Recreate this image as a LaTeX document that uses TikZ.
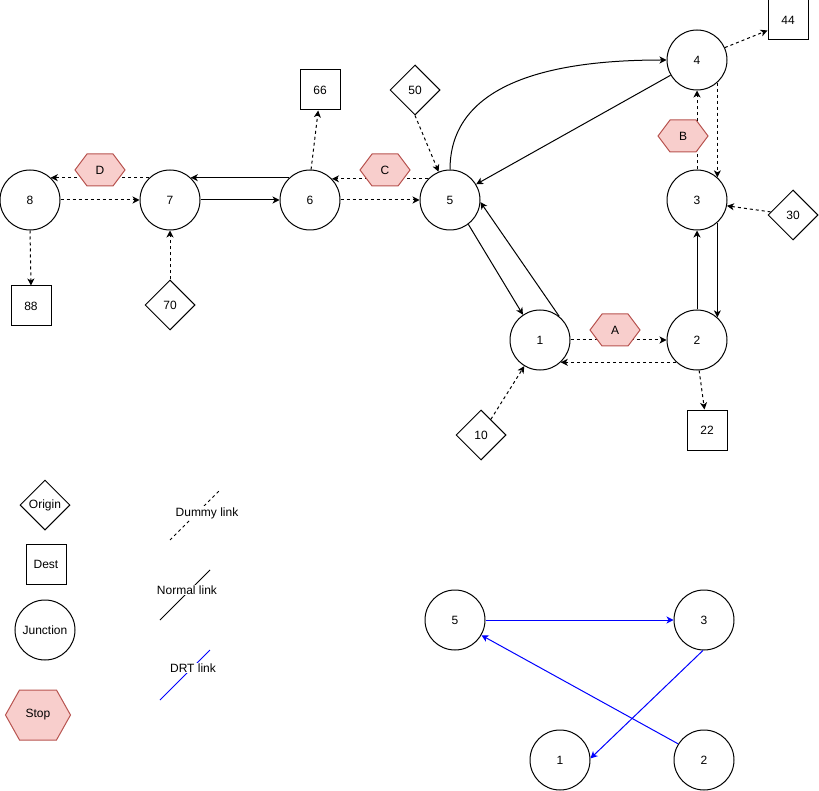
\documentclass[tikz,border=0pt]{standalone}
\usepackage{fontspec}
\setmainfont{Liberation Sans}
\usetikzlibrary{arrows.meta,shapes.geometric,calc}
\definecolor{stopfill}{HTML}{F8CECC}
\definecolor{stopdraw}{HTML}{B85450}
\definecolor{drtblue}{HTML}{0000FF}
\tikzset{
 lbl/.style={font=\fontsize{12}{14}\selectfont, text=black},
 junction/.style={lbl, circle, draw, line width=1pt, fill=white, minimum size=60pt, inner sep=0pt},
 dest/.style={lbl, rectangle, draw, line width=1pt, fill=white, minimum size=40pt, inner sep=0pt},
 origin/.style={lbl, diamond, draw, line width=1pt, fill=white, minimum width=50pt, minimum height=50pt, inner sep=0pt, aspect=1},
 stopbox/.style={fill=stopfill, draw=stopdraw, line width=1pt},
 stoptext/.style={lbl, inner sep=0pt},
 tip/.style={-{Stealth[length=7pt,width=7pt,inset=2pt]}},
 normal/.style={line width=1pt, tip},
 dummy/.style={line width=1pt, dash pattern=on 3pt off 3pt, tip},
 drt/.style={line width=1pt, draw=drtblue, tip},
 legendline/.style={line width=1pt},
 legendtext/.style={lbl, fill=white, inner sep=1pt},
}
% name, x, y, width, height, slant, label
\newcommand{\stophex}[7]{%
 \draw[stopbox] (#2,#3) ++(-#4/2,0) -- ++(#6,-#5/2) -- ++(#4-2*#6,0) -- ++(#6,#5/2) -- ++(-#6,#5/2) -- ++(-#4+2*#6,0) -- cycle;
 \node[stoptext] (#1) at (#2,#3) {#7};}
\begin{document}
\begin{tikzpicture}[x=1pt,y=-1pt]
\useasboundingbox (0,0) rectangle (819,791);
% junctions
\node[junction] (n8) at (30,200) {8};
\node[junction] (n7) at (170,200) {7};
\node[junction] (n6) at (310,200) {6};
\node[junction] (n5) at (450,200) {5};
\node[junction] (n4) at (697,60) {4};
\node[junction] (n3) at (697,200) {3};
\node[junction] (n2) at (697,340) {2};
\node[junction] (n1) at (540,340) {1};
% destinations
\node[dest] (d44) at (788,20) {44};
\node[dest] (d66) at (320,90) {66};
\node[dest] (d88) at (31,306) {88};
\node[dest] (d22) at (707,430) {22};
% origins
\node[origin] (o50) at (415,90) {50};
\node[origin] (o70) at (170,305) {70};
\node[origin] (o30) at (793,215) {30};
\node[origin] (o10) at (481,435) {10};
% normal links
\draw[normal] (n6.133) -- (n7.47);
\draw[normal] (n7.east) -- (n6.west);
\draw[normal] (n5.north) to[out=90,in=180] (n4.west);
\draw[normal] (n4.-150) -- (n5.31);
\draw[normal] (n2.north) -- (n3.south);
\draw[normal] (n3.-48) -- (n2.48);
\draw[normal] (n5.-53) -- (n1.124);
\draw[normal] (n1.51) -- (n5.-4);
% dummy links
\draw[dummy] (n8.east) -- (n7.west);
\draw[dummy] (n7.133) -- (n8.47);
\draw[dummy] (n6.east) -- (n5.west);
\draw[dummy] (n5.136) -- (n6.44);
\draw[dummy] (n6.88) -- (d66.-95);
\draw[dummy] (n8.south) -- (d88.north);
\draw[dummy] (o70.north) -- (n7.south);
\draw[dummy] (o50.south) -- (n5.112);
\draw[dummy] (n4.24) -- (d44.207);
\draw[dummy] (n3.north) -- (n4.south);
\draw[dummy] (n4.-48) -- (n3.48);
\draw[dummy] (o30) -- (n3.-11);
\draw[dummy] (n1.east) -- (n2.west);
\draw[dummy] (n2.-133) -- (n1.-47);
\draw[dummy] (n2.-86) -- (d22.97);
\draw[dummy] (o10) -- (n1.-121);
% stops
\stophex{sD}{100}{170}{50}{32}{12}{D}
\stophex{sC}{385}{170}{50}{32}{12}{C}
\stophex{sB}{683}{136}{50}{32}{12}{B}
\stophex{sA}{615}{330}{50}{32}{12}{A}
% legend
\node[origin] (lo) at (45,505) {Origin};
\node[dest] (ld) at (46,564) {Dest};
\node[junction] (lj) at (45,630) {Junction};
\stophex{ls}{38}{715}{65}{50}{14}{Stop}
\coordinate (dl1) at (170,540);
\coordinate (dl2) at (219,491);
\coordinate (nl1) at (160,620);
\coordinate (nl2) at (210,570);
\coordinate (rl1) at (160,700);
\coordinate (rl2) at (210,650);
\draw[legendline, dash pattern=on 3pt off 3pt] (dl1) -- (dl2);
\draw[legendline] (nl1) -- (nl2);
\draw[legendline, draw=drtblue] (rl1) -- (rl2);
\node[legendtext] (tdl) at (207,513) {Dummy link};
\node[legendtext] (tnl) at (187,590) {Normal link};
\node[legendtext] (trl) at (193,668) {DRT link};
% DRT graph
\node[junction] (r5) at (455,620) {5};
\node[junction] (r3) at (704,620) {3};
\node[junction] (r1) at (560,760) {1};
\node[junction] (r2) at (704,760) {2};
\draw[drt] (r5.east) -- (r3.west);
\draw[drt] (r3.-92) -- (r1.3);
\draw[drt] (r2.148) -- (r5.-30);
\end{tikzpicture}
\end{document}
